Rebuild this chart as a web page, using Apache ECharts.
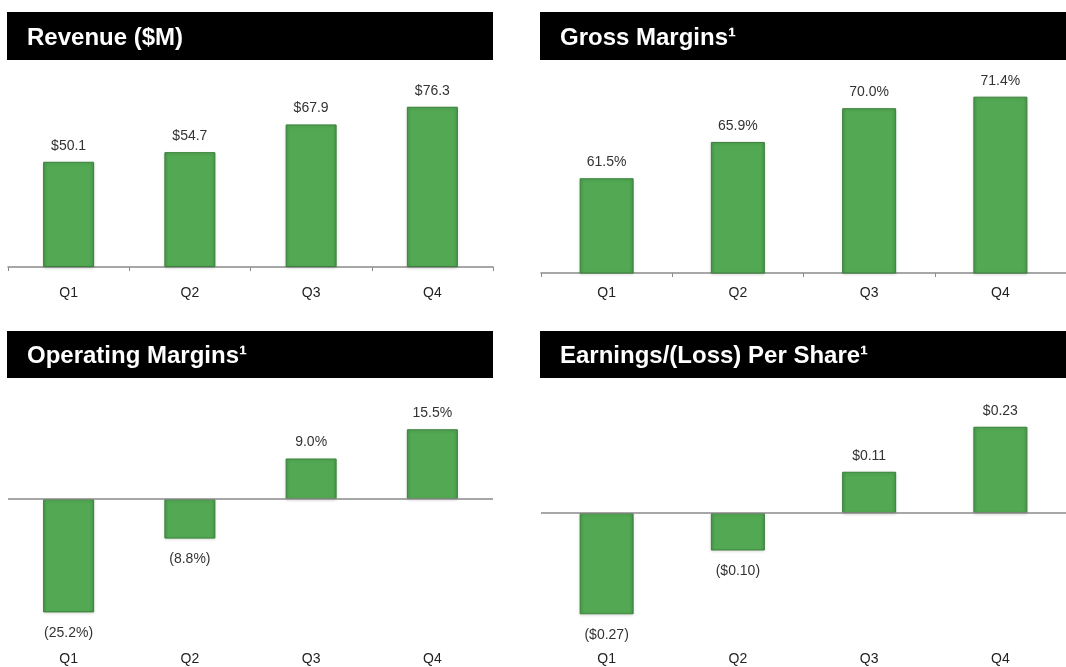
<!DOCTYPE html>
<html>
<head>
<meta charset="utf-8">
<script src="https://cdn.jsdelivr.net/npm/echarts@6/dist/echarts.min.js"></script>
<style>html,body{margin:0;padding:0;background:#fff;}#c{width:1066px;height:667px;}</style>
</head>
<body>
<div id="c"></div>
<script>
const quarters = ['Q1', 'Q2', 'Q3', 'Q4'];
const titles = ['Revenue ($M)', 'Gross Margins\u00b9', 'Operating Margins\u00b9', 'Earnings/(Loss) Per Share\u00b9'];
const revenue = [50.1, 54.7, 67.9, 76.3];
const grossMargin = [61.5, 65.9, 70.0, 71.4];
const operatingMargin = [-25.2, -8.8, 9.0, 15.5];
const eps = [-0.27, -0.10, 0.11, 0.23];

const FONT = '"Liberation Sans", Arial, Helvetica, sans-serif';
const fmtRev = v => '$' + v.toFixed(1);
const fmtPct = v => v < 0 ? '(' + Math.abs(v).toFixed(1) + '%)' : v.toFixed(1) + '%';
const fmtEps = v => v < 0 ? '($' + Math.abs(v).toFixed(2) + ')' : '$' + v.toFixed(2);

const panels = [
  { data: revenue, fmt: fmtRev, grid: {left: 8, right: 573, top: 78, bottom: 400}, min: 0, max: 90, barWidth: 51, labelMargin: 19, ticks: true, zeroLine: false },
  { data: grossMargin, fmt: fmtPct, grid: {left: 541, right: 0, top: 67, bottom: 394}, min: 50, max: 75, barWidth: 54, labelMargin: 13, ticks: true, zeroLine: false },
  { data: operatingMargin, fmt: fmtPct, grid: {left: 8, right: 573, top: 409, bottom: 42}, min: -28, max: 20, barWidth: 51, labelMargin: 27, ticks: false, zeroLine: true },
  { data: eps, fmt: fmtEps, grid: {left: 541, right: 0, top: 400.5, bottom: 41.5}, min: -0.3, max: 0.3, barWidth: 54, labelMargin: 27, ticks: false, zeroLine: true }
];
const headers = [
  {x: 7, y: 12, w: 486, h: 48},
  {x: 540, y: 12, w: 526, h: 48},
  {x: 7, y: 331, w: 486, h: 47},
  {x: 540, y: 331, w: 526, h: 47}
];

const barColor = {
  type: 'linear', x: 0, y: 0, x2: 1, y2: 0,
  colorStops: [
    {offset: 0, color: '#48994a'},
    {offset: 0.08, color: '#52a853'},
    {offset: 0.92, color: '#52a853'},
    {offset: 1, color: '#48994a'}
  ]
};

const option = {
  animation: false,
  backgroundColor: '#ffffff',
  textStyle: {fontFamily: FONT},
  grid: panels.map(p => Object.assign({containLabel: false}, p.grid)),
  xAxis: panels.map((p, i) => ({
    type: 'category', gridIndex: i, data: quarters,
    axisLine: {show: !p.zeroLine, onZero: false, lineStyle: {color: '#8a8a8a', width: 1.5}},
    axisTick: {show: p.ticks, length: 4, lineStyle: {color: '#8a8a8a'}},
    axisLabel: {color: '#222', fontSize: 14, fontFamily: FONT, margin: p.labelMargin}
  })),
  yAxis: panels.map((p, i) => ({
    type: 'value', gridIndex: i, min: p.min, max: p.max, show: false, splitLine: {show: false}
  })),
  graphic: headers.map((h, i) => ({
    type: 'group', left: h.x, top: h.y,
    children: [
      {type: 'rect', shape: {x: 0, y: 0, width: h.w, height: h.h}, style: {fill: '#000'}},
      {type: 'text', left: 20, top: h.h / 2 - 10, style: {text: titles[i], fill: '#fff', font: 'bold 24px ' + FONT}}
    ]
  })),
  series: panels.map((p, i) => ({
    type: 'bar', xAxisIndex: i, yAxisIndex: i, barWidth: p.barWidth,
    itemStyle: {color: barColor, borderColor: '#3a8139', borderWidth: 1,
      shadowColor: 'rgba(0,0,0,0.15)', shadowBlur: 3, shadowOffsetY: 1},
    data: p.data.map(v => ({
      value: v,
      label: {position: v < 0 ? 'bottom' : 'top', distance: v < 0 ? 14 : 9}
    })),
    label: {show: true, color: '#333', fontSize: 14, fontFamily: FONT, formatter: d => p.fmt(d.value)},
    markLine: p.zeroLine ? {
      symbol: 'none', silent: true, label: {show: false},
      lineStyle: {color: '#8a8a8a', type: 'solid', width: 1.5},
      data: [{yAxis: 0}]
    } : undefined
  }))
};

const chart = echarts.init(document.getElementById('c'), null, {renderer: 'canvas'});
chart.setOption(option);
</script>
</body>
</html>
